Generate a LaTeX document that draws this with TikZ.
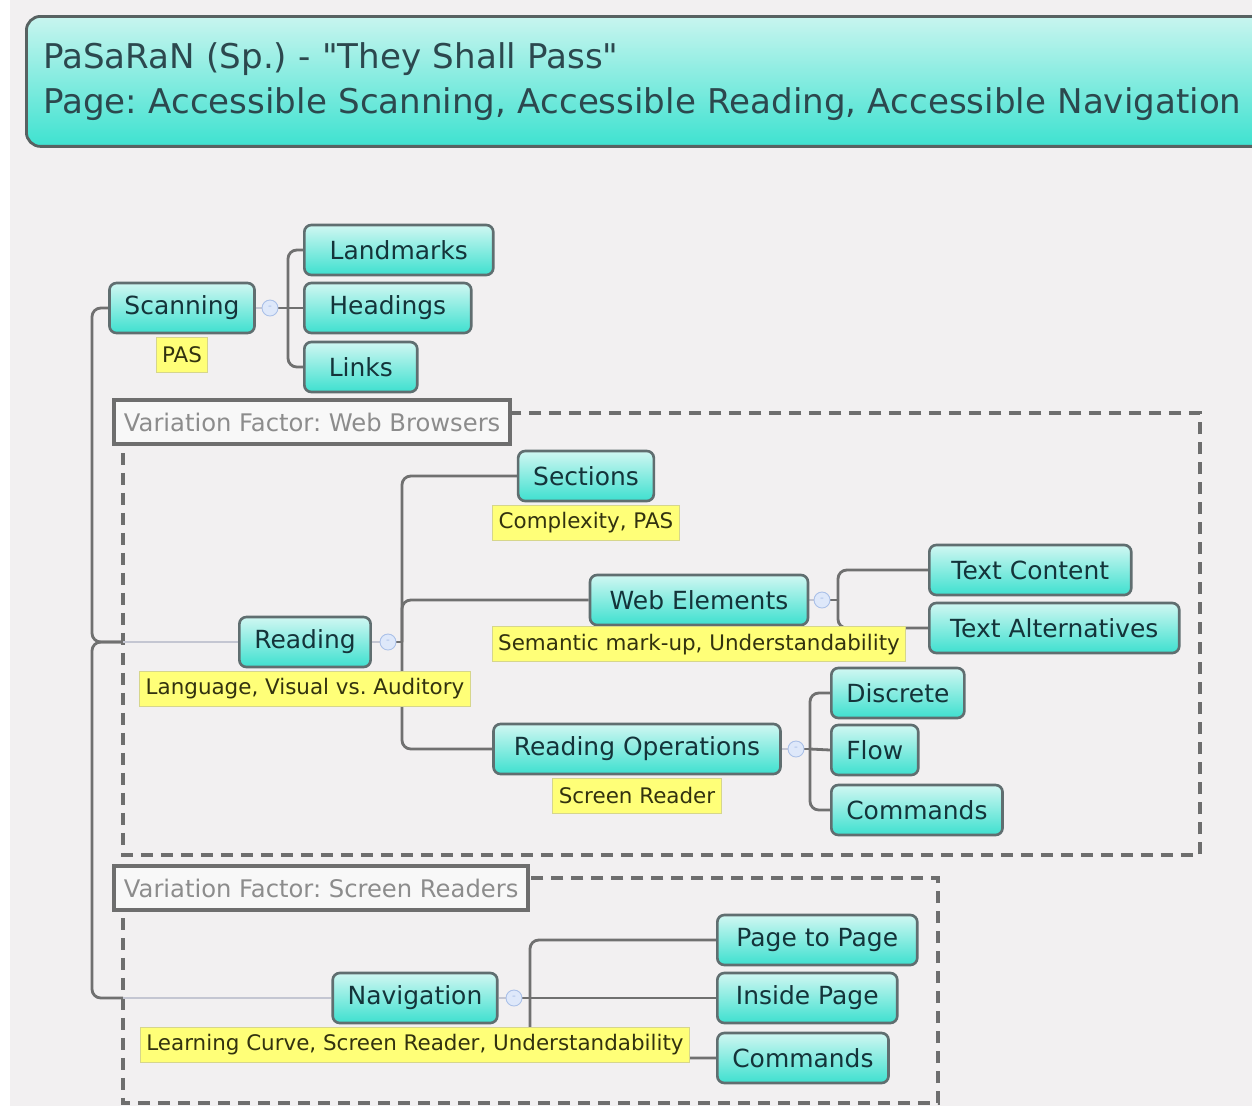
\documentclass[tikz,border=0pt]{standalone}
\usepackage{fontspec}
\setmainfont{DejaVu Sans}
\usetikzlibrary{positioning, backgrounds}
\frenchspacing

\definecolor{pagebg}{RGB}{242,240,241}
\definecolor{bannertop}{RGB}{200,245,239}
\definecolor{bannerbot}{RGB}{62,226,208}
\definecolor{banneredge}{RGB}{88,98,98}
\definecolor{bannertext}{RGB}{44,72,78}
\definecolor{topictop}{RGB}{208,247,242}
\definecolor{topicbot}{RGB}{62,224,207}
\definecolor{topicedge}{RGB}{96,110,112}
\definecolor{topictext}{RGB}{20,52,58}
\definecolor{noteyellow}{RGB}{255,255,120}
\definecolor{noteedge}{RGB}{214,214,140}
\definecolor{notetext}{RGB}{50,50,15}
\definecolor{linkgray}{RGB}{112,112,112}
\definecolor{thingray}{RGB}{196,198,210}
\definecolor{framegray}{RGB}{110,110,110}
\definecolor{vftext}{RGB}{140,140,140}
\definecolor{foldblue}{RGB}{222,232,250}
\definecolor{foldedge}{RGB}{170,192,232}

% straight double quote, kept away from the TeX ligature mapping
\newcommand{\plainquote}{\XeTeXglyph\numexpr\XeTeXcharglyph"22\relax}

\begin{document}
\begin{tikzpicture}[
    x=0.02cm, y=-0.02cm,
    banner/.style  = {draw=banneredge, line width=1.6pt, rounded corners=8pt, top color=bannertop, bottom color=bannerbot, text=bannertext, align=left, text width=24.2cm, minimum height=2.6cm, inner xsep=0.34cm, font=\fontsize{19.4}{25.5}\selectfont},
    topic/.style   = {draw=topicedge, line width=1.5pt, rounded corners=4pt, top color=topictop, bottom color=topicbot, text=topictext, minimum height=1cm, inner xsep=0.3cm, font=\fontsize{14.2}{16}\selectfont},
    note/.style    = {draw=noteedge, line width=0.6pt, fill=noteyellow, text=notetext, minimum height=0.7cm, inner xsep=0.12cm, inner ysep=0pt, font=\fontsize{12.2}{14}\selectfont},
    fold/.style    = {circle, draw=foldedge, fill=foldblue, line width=0.5pt, minimum size=0.32cm, inner sep=0pt, text=foldedge, font=\fontsize{6}{6}\selectfont},
    treelink/.style = {draw=linkgray, line width=1.6pt, rounded corners=5pt},
    stem/.style    = {draw=thingray, line width=0.8pt},
    vfframe/.style = {draw=framegray, line width=2.2pt, dash pattern=on 0.24cm off 0.16cm},
    vflabel/.style = {draw=framegray, line width=2.2pt, fill=pagebg!50!white, text=vftext, minimum height=0.88cm, inner xsep=0.2cm, font=\fontsize{13.8}{16}\selectfont}
  ]

  \useasboundingbox (0,0) rectangle (1252,1110);

  \begin{scope}[on background layer]
    \fill[white] (0,0) rectangle (1252,1110);
    \fill[pagebg] (10,0) rectangle (1252,1106);
    % variation factor frames
    \draw[vfframe] (123,413) rectangle (1200,855);
    \draw[vfframe] (123,878) rectangle (938,1103);
  \end{scope}

  % title
  \node[banner, anchor=north west] (title) at (25,15)
    {PaSaRaN (Sp.) - \plainquote They Shall Pass\plainquote\\Page: Accessible Scanning, Accessible Reading, Accessible Navigation};

  %% -- Scanning ---------------------------------------------
  \node[topic] (scan) at (182,308) {Scanning};
  \node[note, below=0.05cm of scan] (scannote) {PAS};
  \node[fold] (scanfold) at (270,308) {-};
  \coordinate (scanbar) at (288,308);
  \node[topic, anchor=west, minimum width=3.78cm] (landmarks) at (303,250) {Landmarks};
  \node[topic, anchor=west, minimum width=3.34cm] (headings)  at (303,308) {Headings};
  \node[topic, anchor=west, minimum width=2.26cm] (links)     at (303,367) {Links};

  %% -- Reading ----------------------------------------------
  \node[vflabel, anchor=west] (webvf) at (112,422) {Variation Factor: Web Browsers};
  \node[topic] (reading) at (305,642) {Reading};
  \node[note, below=0.05cm of reading] (readnote) {Language, Visual vs. Auditory};
  \node[fold] (readfold) at (388,642) {-};
  \coordinate (readbar) at (402,642);

  \node[topic] (sections) at (586,476) {Sections};
  \node[note, below=0.05cm of sections] (secnote) {Complexity, PAS};

  \node[topic, minimum width=4.36cm] (webel) at (699,600) {Web Elements};
  \node[note, below=0cm of webel] (webnote) {Semantic mark-up, Understandability};
  \node[fold] (webfold) at (822,600) {-};
  \coordinate (webbar) at (838,600);
  \node[topic, anchor=west, minimum width=4.04cm] (textcont) at (928,570) {Text Content};
  \node[topic, anchor=west, minimum width=5cm]    (textalt)  at (928,628) {Text Alternatives};

  \node[topic, minimum width=5.74cm] (readops) at (637,749) {Reading Operations};
  \node[note, below=0.05cm of readops] (opsnote) {Screen Reader};
  \node[fold] (opsfold) at (796,749) {-};
  \coordinate (opsbar) at (810,749);
  \node[topic, anchor=west] (discrete) at (830,693) {Discrete};
  \node[topic, anchor=west] (flow)     at (830,750) {Flow};
  \node[topic, anchor=west] (opscmds)  at (830,810) {Commands};

  %% -- Navigation -------------------------------------------
  \node[vflabel, anchor=west] (srvf) at (112,888) {Variation Factor: Screen Readers};
  \node[topic] (nav) at (415,998) {Navigation};
  \node[note, below=0.05cm of nav] (navnote) {Learning Curve, Screen Reader, Understandability};
  \node[fold] (navfold) at (514,998) {-};
  \coordinate (navbar) at (530,998);
  \node[topic, anchor=west, minimum width=4cm]   (pagetopage) at (716,940)  {Page to Page};
  \node[topic, anchor=west, minimum width=3.6cm] (insidepage) at (716,998)  {Inside Page};
  \node[topic, anchor=west]                      (navcmds)    at (716,1058) {Commands};

  % trunk
  \coordinate (hub) at (92,642);
  \coordinate (readjoin) at (123,642);
  \coordinate (navjoin) at (123,998);

  %% -- Connectors -------------------------------------------
  \begin{scope}[on background layer]
    \draw[treelink] (scan.west) -| (hub) -- (readjoin);
    \draw[treelink] (navjoin) -| (hub) -- (readjoin);
    \draw[stem] (readjoin) -- (reading.west);
    \draw[stem] (navjoin) -- (nav.west);

    \draw[stem] (scan.east) -- (scanfold);
    \draw[treelink] (scanfold) -- (scanbar);
    \draw[treelink] (scanbar) |- (landmarks.west);
    \draw[treelink] (scanbar) -- (headings.west);
    \draw[treelink] (scanbar) |- (links.west);

    \draw[stem] (reading.east) -- (readfold);
    \draw[treelink] (readfold) -- (readbar);
    \draw[treelink] (readbar) |- (sections.west);
    \draw[treelink] (readbar) |- (webel.west);
    \draw[treelink] (readbar) |- (readops.west);

    \draw[stem] (webel.east) -- (webfold);
    \draw[treelink] (webfold) -- (webbar);
    \draw[treelink] (webbar) |- (textcont.west);
    \draw[treelink] (webbar) |- (textalt.west);

    \draw[stem] (readops.east) -- (opsfold);
    \draw[treelink] (opsfold) -- (opsbar);
    \draw[treelink] (opsbar) |- (discrete.west);
    \draw[treelink] (opsbar) -- (flow.west);
    \draw[treelink] (opsbar) |- (opscmds.west);

    \draw[stem] (nav.east) -- (navfold);
    \draw[treelink] (navfold) -- (navbar);
    \draw[treelink] (navbar) |- (pagetopage.west);
    \draw[treelink] (navbar) -- (insidepage.west);
    \draw[treelink] (navbar) |- (navcmds.west);
  \end{scope}

\end{tikzpicture}
\end{document}
